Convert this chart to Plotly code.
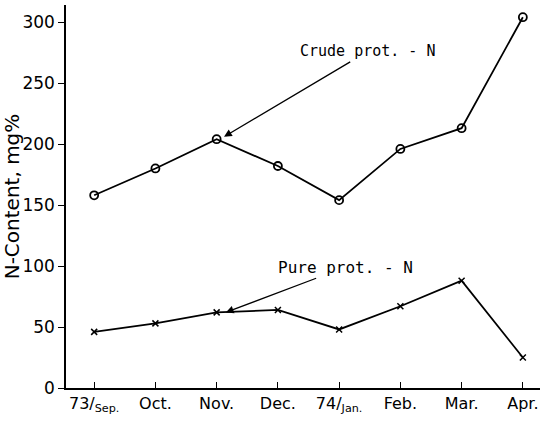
import plotly.graph_objects as go

months = ["73/<sub>Sep.</sub>", "Oct.", "Nov.", "Dec.", "74/<sub>Jan.</sub>", "Feb.", "Mar.", "Apr."]
crude = [158, 180, 204, 182, 154, 196, 213, 304]
pure = [46, 53, 62, 64, 48, 67, 88, 25]
yticks = [0, 50, 100, 150, 200, 250, 300]

x = list(range(len(months)))
font = dict(family="DejaVu Sans", size=16, color="black")
ann_font = dict(family="DejaVu Sans Mono", size=15, color="black")

fig = go.Figure()
fig.add_trace(go.Scatter(x=x, y=crude, mode="lines+markers",
                         line=dict(color="black", width=1.8),
                         marker=dict(symbol="circle-open", size=8, color="black", line=dict(width=1.8)),
                         showlegend=False))
fig.add_trace(go.Scatter(x=x, y=pure, mode="lines+markers",
                         line=dict(color="black", width=1.8),
                         marker=dict(symbol="x-thin-open", size=6, color="black", line=dict(width=1.5)),
                         showlegend=False))

fig.add_annotation(x=2.12, y=206, ax=4.47, ay=276, xref="x", yref="y", axref="x", ayref="y",
                   text="Crude prot. - N", showarrow=True, arrowhead=2, arrowsize=1.2, arrowwidth=1.3,
                   arrowcolor="black", font=ann_font)
fig.add_annotation(x=2.15, y=62, ax=4.1, ay=99, xref="x", yref="y", axref="x", ayref="y",
                   text="Pure prot. - N", showarrow=True, arrowhead=2, arrowsize=1.2, arrowwidth=1.3,
                   arrowcolor="black", font=dict(family="DejaVu Sans Mono", size=16, color="black"))

fig.update_layout(
    width=542, height=428,
    margin=dict(l=66, r=2, t=5, b=40),
    paper_bgcolor="white", plot_bgcolor="white",
    font=font,
    xaxis=dict(range=[-0.46, 7.28], tickvals=x, ticktext=months, ticks="inside", ticklen=6,
               tickcolor="black", showline=True, linecolor="black", linewidth=1.5,
               showgrid=False, zeroline=False, tickfont=font, automargin=False),
    yaxis=dict(range=[0, 314], tickvals=yticks, ticks="outside", ticklen=6, tickcolor="black",
               showline=True, linecolor="black", linewidth=1.5, showgrid=False, zeroline=False,
               title=dict(text="N-Content, mg%", font=dict(family="DejaVu Sans", size=20, color="black"),
                          standoff=4),
               tickfont=dict(family="DejaVu Sans", size=17, color="black"), automargin=False),
)

fig.write_html("out.html", config={"displayModeBar": False},
               post_script="document.body.style.margin='0';")
